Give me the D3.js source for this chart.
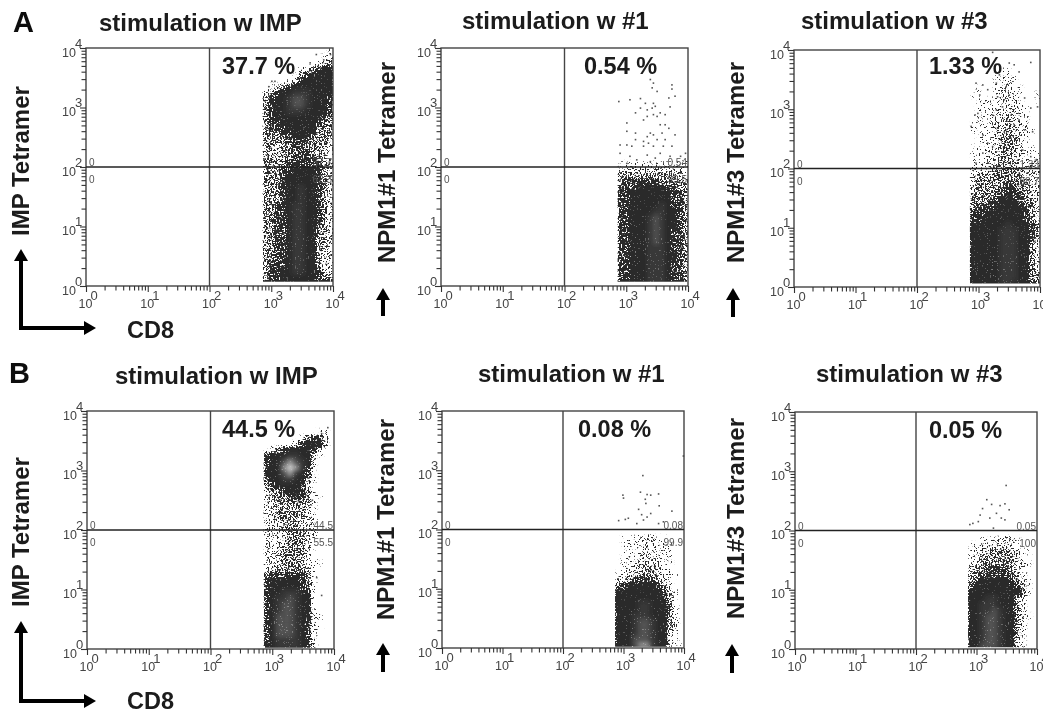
<!DOCTYPE html>
<html>
<head>
<meta charset="utf-8">
<style>
  body { margin: 0; background: #fff; }
  text { font-family: "Liberation Sans", Arial, sans-serif; }
</style>
<script src="https://cdn.jsdelivr.net/npm/d3@7"></script>
</head>
<body>
<div id="viz"></div>
<script>
// panel contents, in drawing order A1 A2 A3 B1 B2 B3
const panelTitles = ['stimulation w IMP', 'stimulation w #1', 'stimulation w #3', 'stimulation w IMP', 'stimulation w #1', 'stimulation w #3'];
const yTitles = ['IMP Tetramer', 'NPM1#1 Tetramer', 'NPM1#3 Tetramer', 'IMP Tetramer', 'NPM1#1 Tetramer', 'NPM1#3 Tetramer'];
const percents = ['37.7 %', '0.54 %', '1.33 %', '44.5 %', '0.08 %', '0.05 %'];
const upperRight = ['37.7', '0.54', '1.33', '44.5', '0.08', '0.05'];
const lowerRight = ['62.3', '99.5', '98.7', '55.5', '99.9', '100'];
const quadrantZero = ['0', '0'];
const majorExponents = [0, 1, 2, 3, 4];
const quadrantGate = [100, 100];

// density, level 0 (empty) .. 5 (packed) .. 9 (hot core)
// one string per 0.1 decade of tetramer, from gridTop downward, one char per CD8 bin
const gridTop = [4.0, 2.1, 3.7, 3.7, 1.9, 1.9];
const gridFloor = [0.07, 0.07, 0.06, 0.02, 0.02, 0.03];
const cd8BinStart = 2.86;
const cd8BinStep = 0.095;

const gridA1 = [
  '000000000001', '000000000012', '000000000123', '000000123455', '000001344555',
  '000012455555', '012345555555', '234556665555', '345567765554', '345567765554',
  '345566655554', '345555555543', '344555555433', '344455555333', '333445554333',
  '333344443332', '332334433332', '322333443322', '332334444322', '333344444433',
  '333445555432', '333455555432', '333455555432', '333455655432', '333455655432',
  '333455655432', '334456655432', '334456655432', '334456655432', '334456655432',
  '334456655332', '334456655332', '334456655332', '334456655332', '334456655322',
  '334456655322', '344456655322', '344556655422', '344555555433', '555555555555'
];
const gridA2 = [
  '111111111112', '222222222221', '333333333322', '344444433333', '444555554433',
  '445555555443', '445555555443', '445555565443', '445555665543', '445556765543',
  '445556765543', '445556765443', '445556765443', '445556765443', '445556665443',
  '445556665543', '445556665543', '445556665443', '445556665443', '445556665443',
  '555556665555'
];
const gridA3 = [
  '000001100000', '000011110000', '000011210000', '010012211000', '110012211001',
  '011112221001', '011112221100', '011122222100', '011122322100', '111222322100',
  '111122322210', '011123332110', '011123332100', '111223332110', '111223322111',
  '111223322111', '112233332222', '222233333222', '233333333222', '233333443322',
  '233334443322', '333344544322', '333445554332', '344455555432', '444555555432',
  '445555555432', '555555655543', '555556665543', '555556665543', '555556665532',
  '555556665532', '555556665532', '555556665532', '555556665532', '555556665533',
  '555556665533', '555556655544'
];
const gridB1 = [
  '000000000120', '000000134420', '000002455530', '123455554200', '455566553100',
  '455787652000', '455898642000', '455786541000', '455665531000', '345555420000',
  '233455431000', '233344431100', '223333331000', '223333321000', '223333321000',
  '222333222000', '222333222000', '222233322000', '212233321000', '222233321000',
  '222333321000', '222333321000', '222333321100', '223333321000', '344444431000',
  '455555431000', '455555431000', '455666541000', '456676551000', '456776551000',
  '456776551000', '457776552100', '457776542100', '457776541100', '457776541000',
  '456666542000', '556666542000'
];
const gridB2 = [
  '011122211000', '011122211100', '011122211100', '011122221100', '011222221100',
  '011223321100', '112233321110', '223444432100', '345555543100', '555555554210',
  '555555554310', '555566555310', '555566555310', '555666555310', '555677655320',
  '555677655320', '555677655210', '555777655210', '555788655211'
];
const gridB3 = [
  '001111221000', '112222221000', '122333322110', '123333332100', '223333332210',
  '233444432100', '334444442200', '345555543210', '455555554310', '555555555310',
  '555665553200', '556665553200', '556676553200', '556776553210', '556776553200',
  '556776553200', '556776553100', '556776552100', '557776552100'
];
const grids = [gridA1, gridA2, gridA3, gridB1, gridB2, gridB3];

// single events that can be told apart, [log CD8, log tetramer]
const eventsA1 = [[3.73,3.89],[3.01,3.44],[2.96,3.35],[3.06,3.44],[3.85,3.8],[3.96,3.89],[3.63,3.75]];
const eventsA2 = [[3.39,3.47],[3.44,3.41],[3.74,3.38],[3.74,3.31],[3.42,3.33],[3.5,3.27],[3.79,3.19],[3.69,3.16],[2.88,3.1],[3.06,3.13],
  [3.23,3.15],[3.31,3.07],[3.44,3.07],[3.47,3.02],[3.42,2.99],[3.71,3.01],[3.23,2.99],[3.34,2.96],[3.55,2.91],[3.5,2.85],
  [3.44,2.88],[3.63,2.88],[3.34,2.85],[3.28,2.79],[3.15,2.91],[3.01,2.74],[3.55,2.71],[3.63,2.71],[3.69,2.65],[3.01,2.6],
  [3.15,2.57],[3.39,2.57],[3.34,2.51],[3.44,2.54],[3.5,2.46],[3.58,2.57],[3.79,2.54],[3.63,2.46],[3.28,2.43],[3.36,2.4],
  [3.15,2.46],[2.9,2.37],[3.01,2.37],[3.09,2.35],[3.28,2.35],[3.44,2.35],[3.6,2.35],[3.74,2.35],[2.9,2.23],[3.06,2.18],
  [3.34,2.2],[3.47,2.15],[3.55,2.23],[3.71,2.18],[3.88,2.18],[3.01,2.06],[3.17,2.12],[3.39,2.09],[3.96,2.23]];
const eventsA3 = [[3.85,3.79],[3.23,3.96],[3.5,3.78],[3.58,3.75],[3.66,3.63],[2.96,3.44],[3.07,3.41],[3.15,3.33],[3.02,3.24],[3.29,3.44],
  [3.31,3.21],[3.34,3.58],[3.45,3.38],[3.5,3.24],[3.75,3.19],[3.85,3.02],[3.96,3.04],[2.94,2.9],[2.99,2.93],[3.23,2.9],
  [3.66,2.82],[2.88,2.71],[3.75,2.65],[3.88,2.62],[3.07,2.57],[3.15,2.43],[3.42,3.16],[3.39,3.04],[3.29,2.99],[3.53,2.9],
  [3.58,2.74],[3.31,2.68],[3.42,2.62],[3.53,2.51],[3.23,2.37],[3.07,2.26],[3.72,2.31],[3.94,2.15],[3.85,2.2],[2.96,2.09]];
const eventsB1 = [[3.9,3.72],[3.8,3.62],[3.05,3.3],[3.65,2.5],[3.72,1.2],[3.8,0.9]];
const eventsB2 = [[3.32,2.91],[3.99,3.24],[2.99,2.58],[3.0,2.53],[3.28,2.63],[3.39,2.59],[3.45,2.58],[3.58,2.6],[3.36,2.51],[3.37,2.44],
  [3.59,2.4],[3.8,2.31],[3.25,2.34],[3.45,2.27],[3.3,2.25],[2.92,2.15],[3.03,2.17],[3.08,2.19],[3.22,2.1],[3.33,2.16],
  [3.39,2.21],[3.58,2.1],[3.66,2.13]];
const eventsB3 = [[3.49,2.76],[3.17,2.52],[3.47,2.45],[3.39,2.42],[3.25,2.44],[3.1,2.37],[3.06,2.26],[3.33,2.29],[3.54,2.35],[3.41,2.21],
  [3.47,2.18],[2.89,2.1],[2.94,2.12],[3.28,2.04],[3.03,2.15],[3.22,2.21]];
const events = [eventsA1, eventsA2, eventsA3, eventsB1, eventsB2, eventsB3];

// layout
const panels = [
  {left: 86,  right: 333,  top: 48,  bottom: 286, titleX: 99,  titleY: 31,  yTitleX: 29,  yTitleY: 236, pctX: 222, pctY: 74},
  {left: 441, right: 688,  top: 48,  bottom: 286, titleX: 462, titleY: 29,  yTitleX: 395, yTitleY: 263, pctX: 584, pctY: 74},
  {left: 794, right: 1040, top: 50,  bottom: 287, titleX: 801, titleY: 29,  yTitleX: 744, yTitleY: 263, pctX: 929, pctY: 74},
  {left: 87,  right: 334,  top: 411, bottom: 649, titleX: 115, titleY: 384, yTitleX: 29,  yTitleY: 607, pctX: 222, pctY: 437},
  {left: 442, right: 684,  top: 411, bottom: 648, titleX: 478, titleY: 382, yTitleX: 394, yTitleY: 620, pctX: 578, pctY: 437},
  {left: 795, right: 1037, top: 412, bottom: 649, titleX: 816, titleY: 382, yTitleX: 744, yTitleY: 619, pctX: 929, pctY: 438}
];

// how much of a cell the dots cover, and how much the hot core lifts the gray
const coverage = d3.scaleLinear().domain([0, 1, 2, 3, 4, 5]).range([0, 0.12, 0.28, 0.48, 0.74, 1]).clamp(true);
const coreLift = d3.scaleLinear().domain([5, 6, 7, 8, 9]).range([0, 0.05, 0.16, 0.45, 0.72]).clamp(true);

const svg = d3.select('#viz').append('svg')
  .attr('width', 1043)
  .attr('height', 712);

const defs = svg.append('defs');

// grain: the blurred cell alpha is cut against a fine texture so the cells read as dots
const grain = defs.append('filter').attr('id', 'grain')
  .attr('x', '-5%').attr('y', '-5%').attr('width', '110%').attr('height', '110%')
  .attr('color-interpolation-filters', 'sRGB');
grain.append('feGaussianBlur').attr('in', 'SourceAlpha').attr('stdDeviation', 1.2).attr('result', 'dens');
grain.append('feTurbulence').attr('type', 'fractalNoise').attr('baseFrequency', 0.62)
  .attr('numOctaves', 2).attr('seed', 4).attr('result', 'tex');
grain.append('feColorMatrix').attr('in', 'tex').attr('type', 'matrix')
  .attr('values', '0 0 0 0 0  0 0 0 0 0  0 0 0 0 0  2.6 0 0 0 -0.8').attr('result', 'texA');
grain.append('feComposite').attr('in', 'dens').attr('in2', 'texA')
  .attr('operator', 'arithmetic').attr('k1', 0).attr('k2', 1.12).attr('k3', -1).attr('k4', 0).attr('result', 'diff');
const cut = grain.append('feComponentTransfer').attr('in', 'diff').attr('result', 'mask');
cut.append('feFuncA').attr('type', 'linear').attr('slope', 7).attr('intercept', 0);
grain.append('feFlood').attr('flood-color', '#2b2b2b').attr('result', 'ink');
grain.append('feComposite').attr('in', 'ink').attr('in2', 'mask').attr('operator', 'in');

defs.append('filter').attr('id', 'core')
  .append('feGaussianBlur').attr('stdDeviation', 2.2);
defs.append('filter').attr('id', 'scan')
  .append('feGaussianBlur').attr('stdDeviation', 0.45);

const page = svg.append('g').attr('filter', 'url(#scan)');

function exponentLabel(sel, exps, dx, dy) {
  sel.each(function(d, i) {
    d3.select(this).append('tspan')
      .attr('dx', dx)
      .attr('dy', dy)
      .style('font-size', '13px')
      .text(exps[i]);
  });
}

panels.forEach((p, n) => {
  const x = d3.scaleLog().domain([1, 1e4]).range([p.left, p.right]);
  const y = d3.scaleLog().domain([1, 1e4]).range([p.bottom, p.top]);
  const g = page.append('g');

  // density cells
  defs.append('clipPath').attr('id', 'clip' + n)
    .append('rect')
    .attr('x', x(Math.pow(10, cd8BinStart)))
    .attr('y', p.top)
    .attr('width', p.right - x(Math.pow(10, cd8BinStart)))
    .attr('height', y(Math.pow(10, gridFloor[n])) - p.top);

  const cells = [];
  grids[n].forEach((row, r) => {
    row.split('').forEach((level, c) => {
      if (+level > 0) cells.push({r: r, c: c, level: +level});
    });
  });

  const cellX = d => x(Math.pow(10, cd8BinStart + d.c * cd8BinStep));
  const cellW = d => x(Math.pow(10, cd8BinStart + (d.c + 1) * cd8BinStep)) - cellX(d) + 0.5;
  const cellY = d => y(Math.pow(10, gridTop[n] - d.r * 0.1));
  const cellH = d => y(Math.pow(10, gridTop[n] - (d.r + 1) * 0.1)) - cellY(d) + 0.5;

  const clipped = g.append('g').attr('clip-path', 'url(#clip' + n + ')');

  clipped.append('g').attr('filter', 'url(#grain)')
    .selectAll('rect')
    .data(cells)
    .enter()
    .append('rect')
    .attr('x', cellX).attr('width', cellW)
    .attr('y', cellY).attr('height', cellH)
    .style('fill', '#000')
    .style('opacity', d => coverage(d.level));

  clipped.append('g').attr('filter', 'url(#core)')
    .selectAll('rect')
    .data(cells.filter(d => d.level > 5))
    .enter()
    .append('rect')
    .attr('x', cellX).attr('width', cellW)
    .attr('y', cellY).attr('height', cellH)
    .style('fill', '#fff')
    .style('opacity', d => coreLift(d.level));

  // lone events
  g.append('g').selectAll('rect')
    .data(events[n])
    .enter()
    .append('rect')
    .attr('x', d => x(Math.pow(10, d[0])) - 0.8)
    .attr('y', d => y(Math.pow(10, d[1])) - 0.8)
    .attr('width', 1.6)
    .attr('height', 1.6)
    .style('fill', '#555');

  // frame + gates
  g.append('rect')
    .attr('x', p.left).attr('y', p.top)
    .attr('width', p.right - p.left).attr('height', p.bottom - p.top)
    .style('fill', 'none').style('stroke', '#444').style('stroke-width', 1.4);
  g.append('line')
    .attr('x1', x(quadrantGate[0])).attr('x2', x(quadrantGate[0]))
    .attr('y1', p.top).attr('y2', p.bottom)
    .style('stroke', '#444').style('stroke-width', 1.4);
  g.append('line')
    .attr('x1', p.left).attr('x2', p.right)
    .attr('y1', y(quadrantGate[1])).attr('y2', y(quadrantGate[1]))
    .style('stroke', '#222').style('stroke-width', 1.4);

  // axes
  const minors = [];
  majorExponents.slice(0, 4).forEach(e => {
    d3.range(2, 10).forEach(m => minors.push(m * Math.pow(10, e)));
  });
  const majors = majorExponents.map(e => Math.pow(10, e));

  const xMinor = g.append('g').attr('transform', `translate(0,${p.bottom})`)
    .call(d3.axisBottom(x).tickValues(minors).tickSize(4.5).tickFormat(''));
  const yMinor = g.append('g').attr('transform', `translate(${p.left},0)`)
    .call(d3.axisLeft(y).tickValues(minors).tickSize(4.5).tickFormat(''));
  const xMajor = g.append('g').attr('transform', `translate(0,${p.bottom})`)
    .call(d3.axisBottom(x).tickValues(majors).tickSize(6).tickFormat(() => '10'));
  const yMajor = g.append('g').attr('transform', `translate(${p.left},0)`)
    .call(d3.axisLeft(y).tickValues(majors).tickSize(6).tickFormat(() => '10'));

  [xMinor, yMinor, xMajor, yMajor].forEach(a => {
    a.select('.domain').remove();
    a.selectAll('.tick line').style('stroke', '#333').style('stroke-width', 1.1);
    a.selectAll('text').style('font-size', '12.5px').style('fill', '#444');
  });

  xMajor.selectAll('text')
    .attr('text-anchor', 'start')
    .attr('x', -8).attr('y', 22).attr('dy', 0)
    .call(exponentLabel, majorExponents, -2, -8);
  yMajor.selectAll('text')
    .attr('text-anchor', 'start')
    .attr('x', -24).attr('y', 8).attr('dy', 0)
    .call(exponentLabel, majorExponents, -1, -9);

  // quadrant numbers
  const gateY = y(quadrantGate[1]);
  const small = g.append('g').style('font-size', '10px').style('fill', '#555');
  small.append('text').attr('x', p.left + 3).attr('y', gateY - 1).text(quadrantZero[0]);
  small.append('text').attr('x', p.left + 3).attr('y', gateY + 16).text(quadrantZero[1]);
  small.append('text').attr('x', p.right - 1).attr('y', gateY - 1).attr('text-anchor', 'end').text(upperRight[n]);
  small.append('text').attr('x', p.right - 1).attr('y', gateY + 16).attr('text-anchor', 'end').text(lowerRight[n]);

  // big texts
  g.append('text')
    .attr('x', p.titleX).attr('y', p.titleY)
    .style('font-size', '24px').style('font-weight', 'bold').style('fill', '#1a1a1a')
    .text(panelTitles[n]);
  g.append('text')
    .attr('transform', `translate(${p.yTitleX},${p.yTitleY}) rotate(-90)`)
    .style('font-size', '24px').style('font-weight', 'bold').style('fill', '#1a1a1a')
    .text(yTitles[n]);
  g.append('text')
    .attr('x', p.pctX).attr('y', p.pctY)
    .style('font-size', '23.5px').style('font-weight', 'bold').style('fill', '#1a1a1a')
    .text(percents[n]);
});

// panel letters, CD8 and the arrows
const letters = [{t: 'A', x: 13, y: 32}, {t: 'B', x: 9, y: 383}];
page.selectAll('.letter').data(letters).enter().append('text')
  .attr('class', 'letter')
  .attr('x', d => d.x).attr('y', d => d.y)
  .style('font-size', '29px').style('font-weight', 'bold').style('fill', '#111')
  .text(d => d.t);

const cd8Labels = [{x: 127, y: 338}, {x: 127, y: 709}];
page.selectAll('.cd8').data(cd8Labels).enter().append('text')
  .attr('class', 'cd8')
  .attr('x', d => d.x).attr('y', d => d.y)
  .style('font-size', '23.5px').style('font-weight', 'bold').style('fill', '#1a1a1a')
  .text('CD8');

defs.append('marker').attr('id', 'head')
  .attr('markerUnits', 'userSpaceOnUse')
  .attr('viewBox', '0 0 12 14').attr('refX', 1).attr('refY', 7)
  .attr('markerWidth', 12).attr('markerHeight', 14)
  .attr('orient', 'auto')
  .append('path').attr('d', 'M0,0L12,7L0,14Z').style('fill', '#000');

const arrows = [
  [[21, 328], [21, 260]], [[21, 328], [85, 328]],
  [[21, 701], [21, 632]], [[21, 701], [85, 701]],
  [[383, 314], [383, 299]], [[733, 315], [733, 299]],
  [[383, 670], [383, 654]], [[732, 671], [732, 655]]
];
page.selectAll('.arrow').data(arrows).enter().append('line')
  .attr('class', 'arrow')
  .attr('x1', d => d[0][0]).attr('y1', d => d[0][1])
  .attr('x2', d => d[1][0]).attr('y2', d => d[1][1])
  .attr('marker-end', 'url(#head)')
  .style('stroke', '#000').style('stroke-width', 4).style('stroke-linecap', 'square');
</script>
</body>
</html>
